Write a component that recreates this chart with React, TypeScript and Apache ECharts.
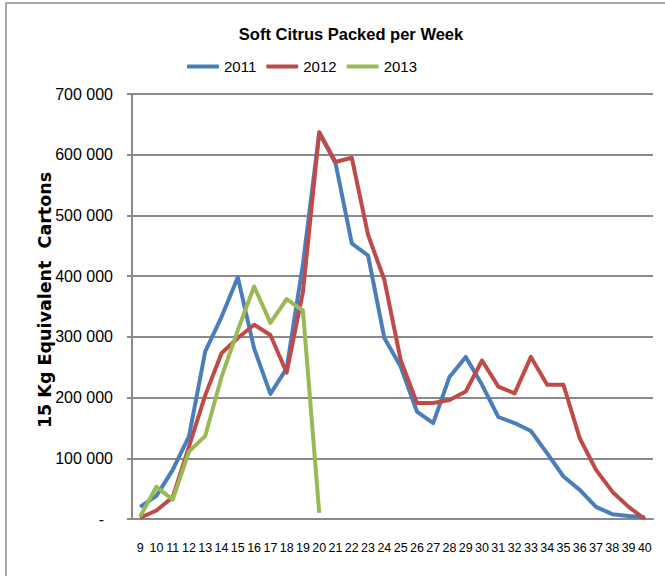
import React, { useEffect, useRef } from "react";
import * as echarts from "echarts";

const weeks: string[] = [
  "9", "10", "11", "12", "13", "14", "15", "16", "17", "18", "19", "20", "21", "22", "23", "24",
  "25", "26", "27", "28", "29", "30", "31", "32", "33", "34", "35", "36", "37", "38", "39", "40",
];

const series2011: number[] = [
  20000, 38000, 81000, 136000, 276000, 333000, 398000, 281000, 206000, 248000, 420000, 636000,
  586000, 454000, 434000, 298000, 251000, 177000, 158000, 234000, 267000, 221000, 168000, 158000,
  145000, 108000, 70000, 48000, 20000, 8000, 5000, 3000,
];

const series2012: number[] = [
  2000, 14000, 36000, 119000, 204000, 273000, 298000, 320000, 303000, 241000, 374000, 637000,
  588000, 595000, 468000, 394000, 262000, 191000, 191000, 196000, 210000, 261000, 218000, 207000,
  267000, 221000, 221000, 133000, 81000, 45000, 20000, 0,
];

const series2013: (number | null)[] = [
  4000, 53000, 32000, 111000, 137000, 234000, 311000, 383000, 323000, 362000, 343000, 10000,
];

const seriesNames: string[] = ["2011", "2012", "2013"];
const seriesColors: string[] = ["#4A7EBB", "#BE4B48", "#98B954"];

const titleText = "Soft Citrus Packed per Week";
const yAxisTitle = "15 Kg Equivalent  Cartons";

const SANS = '"Liberation Sans", Arial, sans-serif';

function fmt(v: number): string {
  if (v === 0) return "-  ";
  const s = String(Math.round(v));
  return s.replace(/\B(?=(\d{3})+(?!\d))/g, " ");
}

export default function App() {
  const ref = useRef<HTMLDivElement>(null);
  useEffect(() => {
    if (!ref.current) return;
    const chart = echarts.init(ref.current, null, { renderer: "svg" });
    const data = [series2011, series2012, series2013];
    chart.setOption({
      animation: false,
      backgroundColor: "#ffffff",
      legend: {
        data: seriesNames,
        left: 187,
        top: 59,
        padding: 0,
        icon: "roundRect",
        itemWidth: 32,
        itemHeight: 4,
        itemGap: 10,
        textStyle: { fontFamily: SANS, fontSize: 15, color: "#000" },
      },
      grid: { left: 132, right: 12, top: 94, bottom: 57, containLabel: false },
      xAxis: {
        type: "category",
        data: weeks,
        boundaryGap: true,
        axisLine: { show: true, lineStyle: { color: "#8a8a8a", width: 2 } },
        axisTick: { show: false },
        axisLabel: {
          interval: 0,
          margin: 22,
          fontFamily: SANS,
          fontSize: 12.5,
          color: "#000",
        },
      },
      yAxis: {
        type: "value",
        min: 0,
        max: 700000,
        interval: 100000,
        axisLine: { show: true, lineStyle: { color: "#8a8a8a", width: 2 } },
        axisTick: { show: true, length: 5, lineStyle: { color: "#8a8a8a", width: 2 } },
        splitLine: { show: true, lineStyle: { color: "#8a8a8a", width: 2 } },
        axisLabel: {
          margin: 19,
          fontFamily: SANS,
          fontSize: 16,
          color: "#000",
          padding: [10, 0, 0, 0],
          formatter: (v: number) => fmt(v),
        },
      },
      graphic: [
        {
          type: "rect",
          silent: true,
          shape: { x: 6, y: 3, width: 800, height: 800 },
          style: { fill: "none", stroke: "#8c8c8c", lineWidth: 1.5 },
        },
        {
          type: "text",
          silent: true,
          x: 351,
          y: 34,
          style: {
            text: titleText,
            fontFamily: SANS,
            fontWeight: "bold",
            fontSize: 16.5,
            fill: "#000",
            align: "center",
            verticalAlign: "middle",
          },
        },
        {
          type: "text",
          silent: true,
          x: 45,
          y: 300,
          rotation: Math.PI / 2,
          style: {
            text: yAxisTitle,
            fontFamily: '"DejaVu Sans", sans-serif',
            fontWeight: "bold",
            fontSize: 17.5,
            fill: "#000",
            align: "center",
            verticalAlign: "middle",
          },
        },
      ],
      series: seriesNames.map((name, i) => ({
        name,
        type: "line",
        data: data[i],
        symbol: "none",
        color: seriesColors[i],
        lineStyle: { width: 4, color: seriesColors[i], join: "round" },
        connectNulls: false,
      })),
    });
    return () => chart.dispose();
  }, []);
  return (
    <div
      ref={ref}
      style={{ position: "absolute", left: 0, top: 0, width: 665, height: 576 }}
    />
  );
}
